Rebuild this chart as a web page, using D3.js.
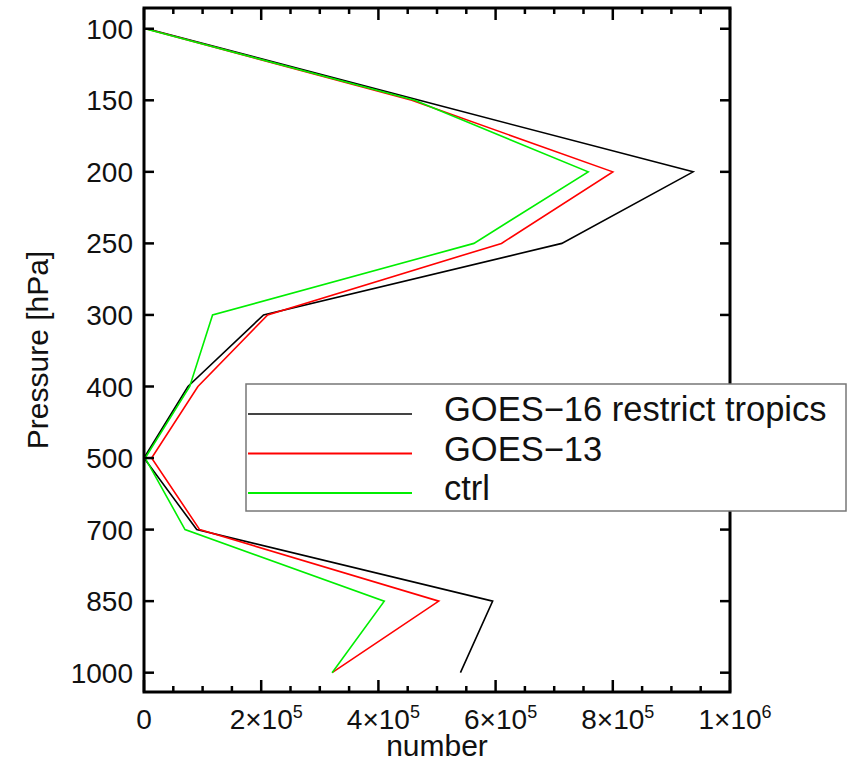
<!DOCTYPE html>
<html>
<head>
<meta charset="utf-8">
<script src="https://cdn.jsdelivr.net/npm/d3@7"></script>
<style>
body { margin: 0; background: white; }
text { font-family: "Liberation Sans", Arial, sans-serif; fill: #111; }
</style>
</head>
<body>
<script>
let width = 858
let height = 762

// data
let levels = [100, 150, 200, 250, 300, 400, 500, 700, 850, 1000]
let goes16 = [5000, 470000, 937000, 713000, 204000, 75000, 0, 90000, 595000, 540000]
let goes13 = [3000, 457000, 800000, 610000, 211000, 92000, 13000, 95000, 503000, 321000]
let ctrl = [2000, 462000, 758000, 563000, 117000, 78000, 2000, 70000, 410000, 321000]
let xTicks = [0, 2e5, 4e5, 6e5, 8e5, 1e6]
let xTickLabels = [["0", ""], ["2\u00d710", "5"], ["4\u00d710", "5"], ["6\u00d710", "5"], ["8\u00d710", "5"], ["1\u00d710", "6"]]

let series = [
	{name: "GOES\u221216 restrict tropics", values: goes16, color: "#000000"},
	{name: "GOES\u221213", values: goes13, color: "#ff0000"},
	{name: "ctrl", values: ctrl, color: "#00ee00"}
]

let plotLeft = 144, plotRight = 730, plotTop = 8, plotBottom = 692

let x = d3.scaleLinear().domain([0, 1e6]).range([plotLeft, plotRight])
let y = d3.scaleLinear().domain([-0.29, 9.27]).range([plotTop, plotBottom])

let svg = d3.select("body").append("svg")
	.attr("width", width)
	.attr("height", height)

// lines
let line = d3.line()
	.x(d => x(d))
	.y((d, i) => y(i))

series.forEach(s => {
	svg.append("path")
		.datum(s.values)
		.attr("d", line)
		.attr("fill", "none")
		.attr("stroke", s.color)
		.attr("stroke-width", 1.6)
})

// ticks
let minor = d3.range(0, 1e6 + 1, 5e4)
minor.forEach(v => {
	let major = Math.round(v) % 200000 === 0
	let len = major ? 12 : 6
	svg.append("line").attr("x1", x(v)).attr("x2", x(v)).attr("y1", plotBottom).attr("y2", plotBottom - len)
		.attr("stroke", "#000").attr("stroke-width", 2.5)
	svg.append("line").attr("x1", x(v)).attr("x2", x(v)).attr("y1", plotTop).attr("y2", plotTop + len)
		.attr("stroke", "#000").attr("stroke-width", 2.5)
})

levels.forEach((l, i) => {
	svg.append("line").attr("x1", plotLeft).attr("x2", plotLeft + 10).attr("y1", y(i)).attr("y2", y(i))
		.attr("stroke", "#000").attr("stroke-width", 2.5)
	svg.append("line").attr("x1", plotRight).attr("x2", plotRight - 10).attr("y1", y(i)).attr("y2", y(i))
		.attr("stroke", "#000").attr("stroke-width", 2.5)
	svg.append("text")
		.attr("x", plotLeft - 11)
		.attr("y", y(i))
		.attr("dy", "0.36em")
		.attr("text-anchor", "end")
		.attr("font-size", 28)
		.text(l)
})

// frame
svg.append("rect")
	.attr("x", plotLeft).attr("y", plotTop)
	.attr("width", plotRight - plotLeft).attr("height", plotBottom - plotTop)
	.attr("fill", "none")
	.attr("stroke", "#000")
	.attr("stroke-width", 3)

// x tick labels
xTicks.forEach((v, i) => {
	let t = svg.append("text")
		.attr("x", x(v) + (i ? 5 : 0))
		.attr("y", 729)
		.attr("text-anchor", "middle")
		.attr("font-size", 28)
	t.append("tspan").text(xTickLabels[i][0])
	if (xTickLabels[i][1]) {
		t.append("tspan").attr("dy", -11).attr("font-size", 18).text(xTickLabels[i][1])
	}
})

// axis titles
svg.append("text")
	.attr("x", 437).attr("y", 756)
	.attr("text-anchor", "middle")
	.attr("font-size", 30)
	.text("number")

svg.append("text")
	.attr("transform", "translate(48,350) rotate(-90)")
	.attr("text-anchor", "middle")
	.attr("font-size", 30)
	.text("Pressure [hPa]")

// legend
let legend = svg.append("g")
legend.append("rect")
	.attr("x", 246).attr("y", 384)
	.attr("width", 600).attr("height", 127)
	.attr("fill", "white")
	.attr("stroke", "#777")
	.attr("stroke-width", 1.5)

series.forEach((s, i) => {
	let ly = 414 + i * 39.5
	legend.append("line")
		.attr("x1", 248).attr("x2", 412)
		.attr("y1", ly).attr("y2", ly)
		.attr("stroke", i === 0 ? "#444" : s.color)
		.attr("stroke-width", 2)
	legend.append("text")
		.attr("x", 444).attr("y", ly + 7)
		.attr("font-size", 34.5)
		.text(s.name)
})
</script>
</body>
</html>
